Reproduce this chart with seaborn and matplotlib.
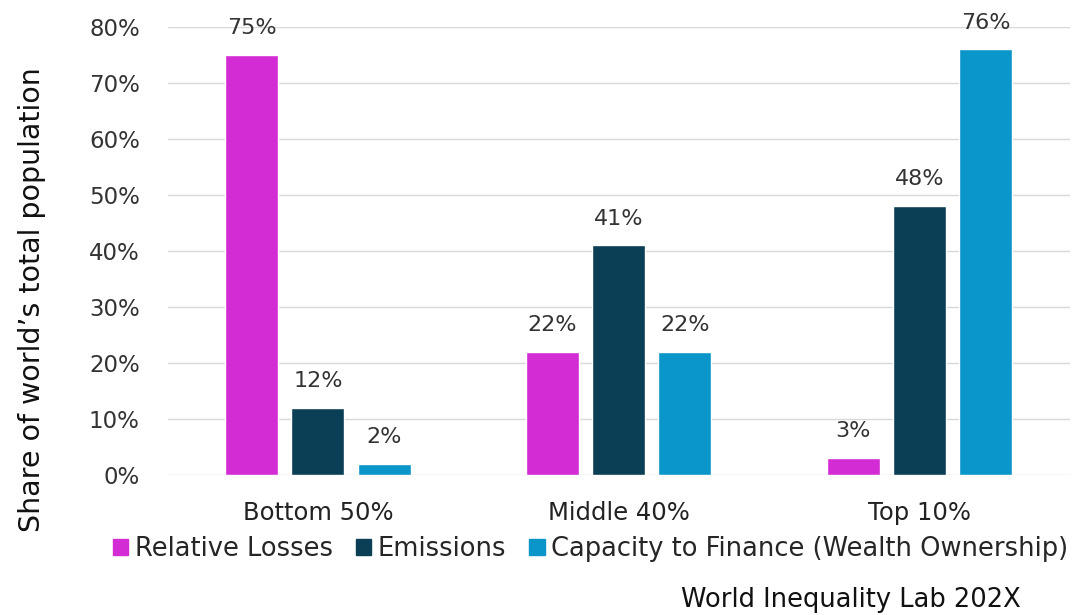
import matplotlib
matplotlib.use("Agg")
import matplotlib.pyplot as plt
import seaborn as sns
import pandas as pd
from matplotlib.ticker import FuncFormatter

# datos
grupos = ["Bottom 50%", "Middle 40%", "Top 10%"]
series = ["Relative Losses", "Emissions", "Capacity to Finance (Wealth Ownership)"]
relative_losses = [75, 22, 3]
emissions = [12, 41, 48]
capacity = [2, 22, 76]
colores = ["#D42CD4", "#0B3F55", "#0B96CA"]

df = pd.DataFrame({
    "grupo": grupos * 3,
    "serie": [series[0]] * 3 + [series[1]] * 3 + [series[2]] * 3,
    "valor": relative_losses + emissions + capacity,
})

sns.set_style("white")
plt.rcParams["font.family"] = ["DejaVu Sans"]

fig = plt.figure(figsize=(10.74, 6.15), dpi=100)
ax = fig.add_axes([0.156, 0.228, 0.84, 0.728])

sns.barplot(data=df, x="grupo", y="valor", hue="serie", palette=colores,
            width=0.66, gap=0.2, ax=ax, legend=False, saturation=1)

for cont in ax.containers:
    ax.bar_label(cont, fmt="%g%%", padding=12, fontsize=16, color="#333333")

ax.set_ylim(0, 80)
ax.set_yticks(range(0, 81, 10))
ax.yaxis.set_major_formatter(FuncFormatter(lambda v, p: f"{v:.0f}%"))
ax.grid(axis="y", color="#d9d9d9", linewidth=1)
ax.set_axisbelow(True)
for s in ax.spines.values():
    s.set_visible(False)
ax.tick_params(axis="y", labelsize=16.5, colors="#333333", pad=20, length=0)
ax.tick_params(axis="x", labelsize=17.5, colors="#222222", pad=19, length=0)
ax.set_xlabel("")
ax.set_ylabel("")
fig.text(0.03, 0.512, "Share of world\u2019s total population", rotation=90,
         ha="center", va="center", fontsize=20.5, color="#111111")

handles = [plt.Rectangle((0, 0), 1, 1, color=c) for c in colores]
fig.legend(handles, series, loc="center", bbox_to_anchor=(0.55, 0.107), ncol=3,
           frameon=False, fontsize=18.5, handlelength=0.6, handleheight=0.6,
           handletextpad=0.25, columnspacing=0.9)

fig.text(0.95, 0.025, "World Inequality Lab 202X", ha="right", va="center", fontsize=18.5, color="#111111")

fig.savefig("out.png", dpi=100)
